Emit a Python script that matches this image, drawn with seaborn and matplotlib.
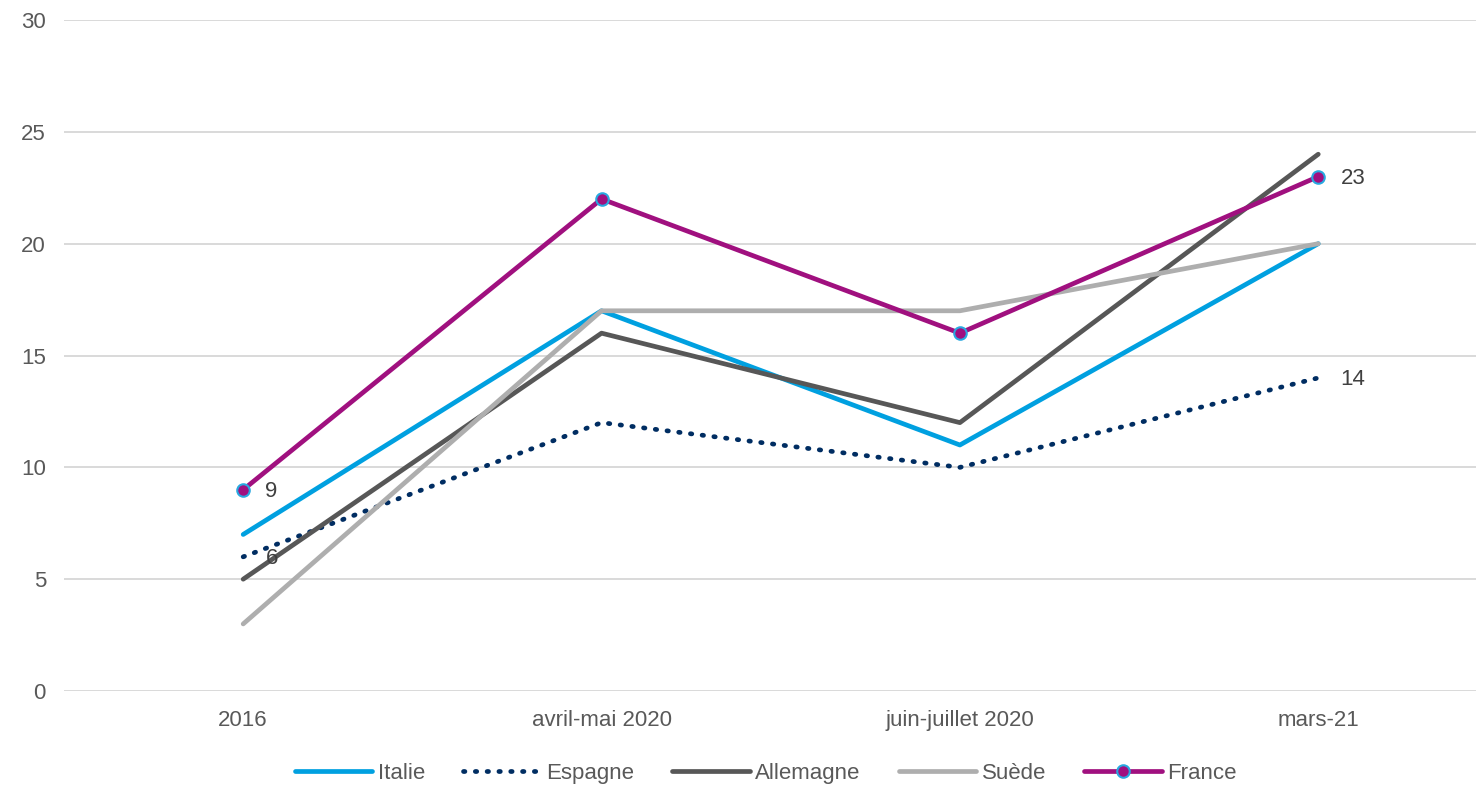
import pandas as pd
import numpy as np
import matplotlib.pyplot as plt
import seaborn as sns

# données
periodes = ['2016', 'avril-mai 2020', 'juin-juillet 2020', 'mars-21']
italie = [7, 17, 11, 20]
espagne = [6, 12, 10, 14]
allemagne = [5, 16, 12, 24]
suede = [3, 17, 17, 20]
france = [9, 22, 16, 23]

sns.set_style('white')
plt.rcParams['font.family'] = ['Liberation Sans', 'DejaVu Sans']

series = {'Italie': italie, 'Espagne': espagne, 'Allemagne': allemagne,
          'Suède': suede, 'France': france}
df = pd.DataFrame([(p, pays, v) for pays, vals in series.items()
                   for p, v in zip(periodes, vals)],
                  columns=['periode', 'pays', 'valeur'])
df['x'] = df['periode'].map({p: i for i, p in enumerate(periodes)})

couleurs = {'Italie': '#00A0E0', 'Espagne': '#002D62', 'Allemagne': '#575757',
            'Suède': '#AEAEAE', 'France': '#A0107F'}

fig = plt.figure(figsize=(14.78, 7.85), dpi=100)
ax = fig.add_axes([0.0433, 0.1197, 0.9553, 0.8548])

for pays in series:
    d = df[df['pays'] == pays]
    kw = dict(color=couleurs[pays], linewidth=3.4, label=pays, ax=ax)
    if pays == 'Espagne':
        kw.update(linestyle=(0, (0.3, 2.2)), dash_capstyle='round', linewidth=3.4)
    if pays == 'France':
        kw.update(marker='o', markersize=9, markerfacecolor=couleurs[pays],
                  markeredgecolor='#29A8E0', markeredgewidth=1.5)
    sns.lineplot(data=d, x='x', y='valeur', **kw)

# étiquettes de données
for pays in ['France', 'Espagne']:
    d = df[df['pays'] == pays]
    for i in [0, len(periodes) - 1]:
        r = d[d['x'] == i].iloc[0]
        ax.annotate(f"{int(r['valeur'])}", (r['x'], r['valeur']),
                    xytext=(16, -1.5), textcoords='offset points',
                    ha='left', va='center', fontsize=16, color='#404040')

ax.set_xlim(-0.5, 3.44)
ax.set_ylim(0, 30)
ax.set_yticks(range(0, 31, 5))
ax.set_xticks(range(len(periodes)))
ax.set_xticklabels(periodes)
ax.set_xlabel('')
ax.set_ylabel('')
ax.grid(axis='y', color='#D9D9D9', linewidth=1.4)
ax.set_axisbelow(True)
for s in ax.spines.values():
    s.set_visible(False)
ax.tick_params(axis='both', length=0, labelsize=16, labelcolor='#595959')
ax.tick_params(axis='y', pad=13)
ax.tick_params(axis='x', pad=14)

ax.legend(loc='upper center', bbox_to_anchor=(0.497, -0.077), ncol=5,
          frameon=False, fontsize=16, handlelength=3.5, handletextpad=0.25,
          columnspacing=1.7, labelcolor='#595959')

fig.savefig('out.png', dpi=100)
